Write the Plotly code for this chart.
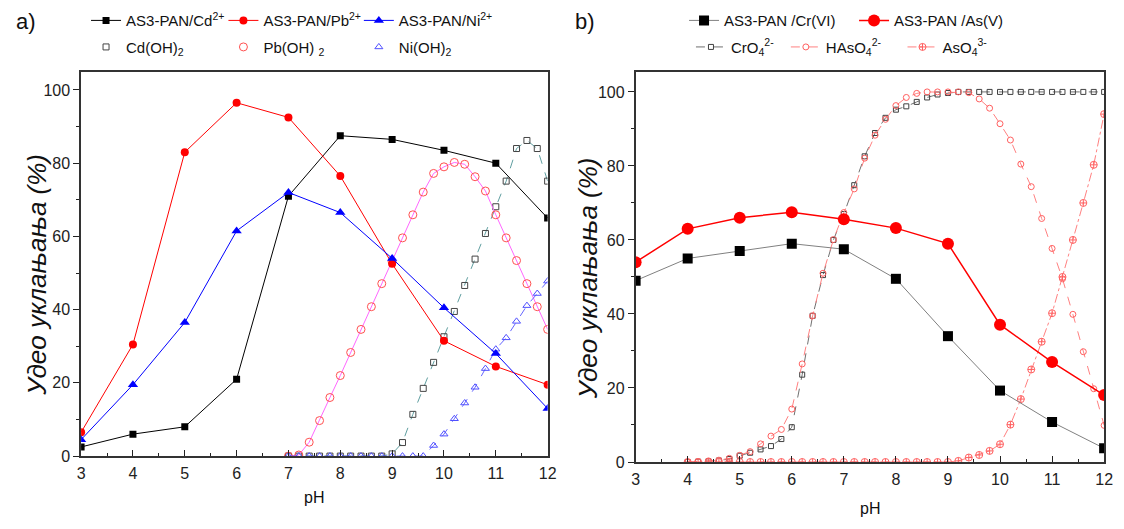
import plotly.graph_objects as go

W, H = 1124, 529

# ---------------- Panel a data ----------------
ph_a = [3, 4, 5, 6, 7, 8, 9, 10, 11, 12]
cd_rem = [2.5, 6, 8, 21, 71, 87.5, 86.5, 83.5, 80, 65]
pb_rem = [6.5, 30.5, 83, 96.5, 92.5, 76.5, 52.5, 31.5, 24.5, 19.5]
ni_rem = [4.5, 19.5, 36.5, 61.5, 72, 66.5, 54, 40.5, 28, 13]

ph_hyd = [7.0, 7.2, 7.4, 7.6, 7.8, 8.0, 8.2, 8.4, 8.6, 8.8, 9.0, 9.2, 9.4,
          9.6, 9.8, 10.0, 10.2, 10.4, 10.6, 10.8, 11.0, 11.2, 11.4, 11.6, 11.8, 12.0]
cd_oh2 = [0, 0, 0, 0, 0, 0, 0, 0, 0, 0, 0.6, 3.7, 11.4, 18.5, 25.6, 32.6, 39.5,
          46.6, 53.8, 60.8, 68.1, 75.1, 84, 86.2, 84, 75.1]
pb_oh2 = [0, 0.3, 3.8, 9.7, 16, 22, 28.3, 34.6, 40.8, 47.1, 53.1, 59.6, 65.9,
          72.1, 77.2, 79, 80.2, 79.7, 76.3, 72.4, 65.9, 59.6, 53.4, 47.1, 40.8, 34.6]
ni_oh2 = [0, 0, 0, 0, 0, 0, 0, 0, 0, 0, 0, 0, 0, 0, 2.9, 6.0, 10.2, 14.5, 18.8,
          23.9, 29.2, 32.3, 36.8, 41.1, 44.4, 47.8]

# ---------------- Panel b data ----------------
ph_b = [3, 4, 5, 6, 7, 8, 9, 10, 11, 12]
cr_rem = [49, 55, 57, 59, 57.5, 49.5, 34, 19.3, 10.8, 3.7]
as_rem = [54, 63, 66, 67.5, 65.6, 63.2, 59, 37.1, 27, 18.1]

ph_spec = [4.0, 4.2, 4.4, 4.6, 4.8, 5.0, 5.2, 5.4, 5.6, 5.8, 6.0, 6.2, 6.4, 6.6,
           6.8, 7.0, 7.2, 7.4, 7.6, 7.8, 8.0, 8.2, 8.4, 8.6, 8.8, 9.0, 9.2, 9.4,
           9.6, 9.8, 10.0, 10.2, 10.4, 10.6, 10.8, 11.0, 11.2, 11.4, 11.6, 11.8, 12.0]
cro4 = [0, 0.1, 0.2, 0.4, 0.8, 1.7, 2.5, 3.4, 4.3, 6.2, 9.4, 23.6, 39.5, 50.5,
        60, 67, 74.8, 82.6, 88.9, 93, 95.2, 96.1, 97.3, 98.5, 99.3, 99.7, 100, 100,
        100, 100, 100, 100, 100, 100, 100, 100, 100, 100, 100, 100, 100]
haso4 = [0, 0.1, 0.3, 0.5, 1.0, 1.8, 2.8, 4.9, 7.0, 8.8, 14.3, 26.5, 39.5, 51,
         60.1, 67.4, 73.8, 82.1, 88.3, 92.6, 96.3, 98.5, 99.6, 100, 100, 100, 100,
         99.8, 98.1, 95.6, 91.4, 87, 80.5, 74.4, 65.8, 57.7, 49.5, 39.9, 29.8, 19.8, 9.9]
aso4 = [0, 0, 0, 0, 0, 0, 0, 0, 0, 0, 0, 0, 0, 0, 0, 0, 0, 0, 0, 0, 0, 0, 0, 0,
        0, 0, 0.3, 1.2, 1.9, 3.0, 4.8, 10.1, 17, 25, 32.5, 40.2, 50, 60, 70, 80.3, 94]

FONT = "Liberation Sans, Arial, sans-serif"

fig = go.Figure()

def add(x, y, name, xa, ya, legend, mode, line=None, marker=None, showlegend=True):
    fig.add_trace(go.Scatter(x=x, y=y, name=name, mode=mode, xaxis=xa, yaxis=ya,
                             legend=legend, line=line, marker=marker,
                             showlegend=showlegend, hoverinfo="x+y+name"))

# panel a hydroxide species (lines drawn, legend via marker-only proxies)
add(ph_hyd, cd_oh2, "Cd(OH)<sub>2</sub>", "x", "y", "legend4", "lines+markers",
    dict(color="#5f9ea0", width=1, dash="dash"),
    dict(symbol="square-open", size=6, color="#444444", line=dict(width=1)), False)
add(ph_hyd, pb_oh2, "Pb(OH) <sub>2</sub>", "x", "y", "legend5", "lines+markers",
    dict(color="#ff66ff", width=1),
    dict(symbol="circle-open", size=8, color="#ff5050", line=dict(width=1)), False)
add(ph_hyd, ni_oh2, "Ni(OH)<sub>2</sub>", "x", "y", "legend6", "lines+markers",
    dict(color="#6666ff", width=1, dash="dash"),
    dict(symbol="triangle-up-open", size=7, color="#5050ff", line=dict(width=1)), False)
add([None], [None], "Cd(OH)<sub>2</sub>", "x", "y", "legend4", "markers", None,
    dict(symbol="square-open", size=6, color="#444444", line=dict(width=1)))
add([None], [None], "Pb(OH) <sub>2</sub>", "x", "y", "legend5", "markers", None,
    dict(symbol="circle-open", size=8, color="#ff5050", line=dict(width=1)))
add([None], [None], "Ni(OH)<sub>2</sub>", "x", "y", "legend6", "markers", None,
    dict(symbol="triangle-up-open", size=7, color="#5050ff", line=dict(width=1)))

# panel a removal
add(ph_a, cd_rem, "AS3-PAN/Cd<sup>2+</sup>", "x", "y", "legend", "lines+markers",
    dict(color="black", width=1), dict(symbol="square", size=7, color="black"))
add(ph_a, pb_rem, "AS3-PAN/Pb<sup>2+</sup>", "x", "y", "legend2", "lines+markers",
    dict(color="red", width=1), dict(symbol="circle", size=8, color="red"))
add(ph_a, ni_rem, "AS3-PAN/Ni<sup>2+</sup>", "x", "y", "legend3", "lines+markers",
    dict(color="blue", width=1), dict(symbol="triangle-up", size=9, color="blue"))

# panel b species
add(ph_spec, cro4, "CrO<sub>4</sub><sup>2-</sup>", "x2", "y2", "legend9", "lines+markers",
    dict(color="#707070", width=1, dash="dash"),
    dict(symbol="square-open", size=5, color="#404040", line=dict(width=1)))
add(ph_spec, haso4, "HAsO<sub>4</sub><sup>2-</sup>", "x2", "y2", "legend10", "lines+markers",
    dict(color="#ff8080", width=1, dash="dash"),
    dict(symbol="circle-open", size=6, color="#ff6060", line=dict(width=1)))
add(ph_spec, aso4, "AsO<sub>4</sub><sup>3-</sup>", "x2", "y2", "legend11", "lines+markers",
    dict(color="#ff8080", width=1, dash="dashdot"),
    dict(symbol="circle-cross-open", size=7, color="#ff6060", line=dict(width=1)))

# panel b removal
add(ph_b, cr_rem, "AS3-PAN /Cr(VI)", "x2", "y2", "legend7", "lines+markers",
    dict(color="#808080", width=1), dict(symbol="square", size=10, color="black"))
add(ph_b, as_rem, "AS3-PAN /As(V)", "x2", "y2", "legend8", "lines+markers",
    dict(color="red", width=1.5), dict(symbol="circle", size=12, color="red"))

# ---------------- layout ----------------
def xpaper(px):
    return px / W

def ypaper(py):
    return 1 - py / H

A_L, A_R, A_T, A_B = 78, 550, 73, 464
B_L, B_R, B_T, B_B = 639, 1113, 73, 470
ytop_a = 100 + (91.5 - A_T) / ((A_B - 91.5) / 100)
ytop_b = 100 + (93.5 - B_T) / ((B_B - 93.5) / 100)

def xaxis(dom):
    return dict(domain=[xpaper(dom[0]), xpaper(dom[1])], range=[3, 12], dtick=1,
                ticks="inside", ticklen=6, tickwidth=1, tickcolor="#222",
                minor=dict(dtick=0.5, ticks="inside", ticklen=3, tickcolor="#222"),
                showline=True, linecolor="#333", linewidth=1.5, mirror=True,
                showgrid=False, zeroline=False, ticklabelstandoff=2,
                tickfont=dict(family=FONT, size=16, color="#222"))

def yaxis(dom, top, anchor):
    return dict(domain=[ypaper(dom[1]), ypaper(dom[0])], range=[0, top], dtick=20,
                ticks="outside", ticklen=6, tickwidth=1, tickcolor="#222",
                minor=dict(dtick=10, ticks="outside", ticklen=3, tickcolor="#222"),
                showline=True, linecolor="#333", linewidth=1.5, mirror=True,
                showgrid=False, zeroline=False, anchor=anchor,
                tickfont=dict(family=FONT, size=16, color="#222"))

def leg(text_x, cy):
    return dict(x=xpaper(text_x - 40), y=ypaper(cy), xanchor="left", yanchor="middle",
                orientation="h", bgcolor="rgba(0,0,0,0)", borderwidth=0,
                font=dict(family=FONT, size=15, color="#111"), itemwidth=30)

ROW1, ROW2 = 21, 48
layout = dict(
    width=W, height=H, margin=dict(l=0, r=0, t=0, b=0),
    paper_bgcolor="white", plot_bgcolor="white",
    xaxis=dict(xaxis((A_L, A_R)), anchor="y"),
    yaxis=yaxis((A_T, A_B), ytop_a, "x"),
    xaxis2=dict(xaxis((B_L, B_R)), anchor="y2"),
    yaxis2=yaxis((B_T, B_B), ytop_b, "x2"),
    legend=leg(123, ROW1), legend2=leg(262, ROW1), legend3=leg(399, ROW1),
    legend4=leg(123, ROW2), legend5=leg(262, ROW2), legend6=leg(399, ROW2),
    legend7=leg(728, ROW1), legend8=leg(900, ROW1),
    legend9=leg(735, ROW2), legend10=leg(831, ROW2), legend11=leg(949, ROW2),
    showlegend=True,
)
fig.update_layout(**layout)

ann = []
def label(text, px, py, size, angle=0):
    ann.append(dict(text=text, x=xpaper(px), y=ypaper(py), xref="paper", yref="paper",
                    showarrow=False, xanchor="center", yanchor="middle", textangle=angle,
                    font=dict(family=FONT, size=size, color="#111")))

label("a)", 22, 22, 22)
label("b)", 588, 22, 22)
label("<i>Удео уклањања (%)</i>", 34, 280, 26, -90)
label("<i>Удео уклањања (%)</i>", 591, 283, 26, -90)
label("pH", 314, 506, 16)
label("pH", 876, 517, 16)
fig.update_layout(annotations=ann)

fig.write_html("out.html")
